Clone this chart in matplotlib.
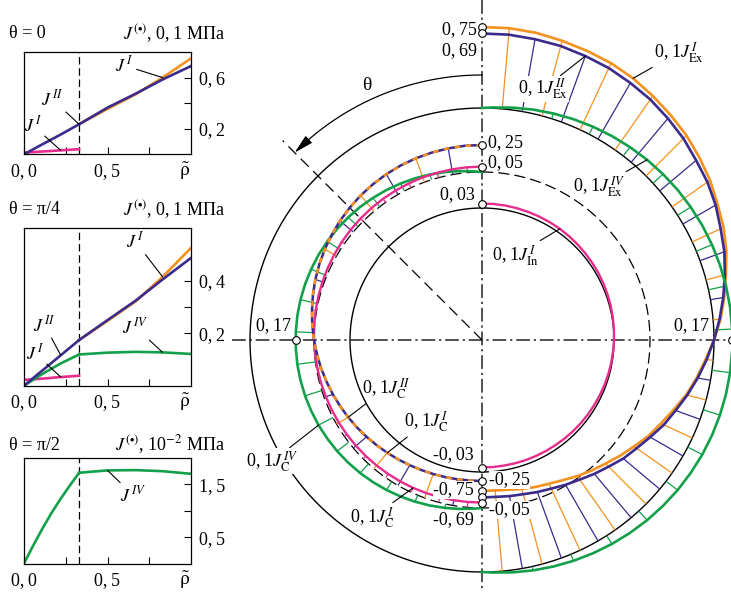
import numpy as np
import matplotlib
matplotlib.use("Agg")
import matplotlib.pyplot as plt
from matplotlib.collections import LineCollection

plt.rcParams['font.family'] = ['Liberation Serif', 'DejaVu Serif']
plt.rcParams['mathtext.fontset'] = 'stix'
plt.rcParams['font.size'] = 13

W, H = 731, 592
fig = plt.figure(figsize=(W / 100, H / 100), dpi=100)

ORANGE = '#F4911F'
BLUE = '#3A2B8C'
GREEN = '#13A04A'
PINK = '#E62C8C'
TS = '\u2009'  # thin space after decimal comma

# ---------------- left panels: data ----------------
rho_core = [0.0, 0.11, 0.22, 0.33]
rho_core_fine = [0.0, 0.055, 0.11, 0.165, 0.22, 0.275, 0.33]
rho_ext = [0.33, 0.5, 0.67, 0.83, 1.0]
rho_split = 0.33
x_ticks = [0.0, 0.25, 0.5, 0.75]
x_ticklabels = ['0,' + TS + '0', '', '0,' + TS + '5', '']

# theta = 0
t0_JII_core = [0.0, 0.078, 0.155, 0.235]
t0_JII_ext = [0.235, 0.365, 0.475, 0.585, 0.69]
t0_JI_ext = [0.235, 0.355, 0.47, 0.60, 0.75]
t0_JI_core = [0.013, 0.022, 0.031, 0.040]
# theta = pi/4
t4_JII_core = [0.0, 0.058, 0.116, 0.174]
t4_JII_ext = [0.174, 0.25, 0.325, 0.405, 0.487]
t4_JI_ext = [0.174, 0.247, 0.322, 0.415, 0.525]
t4_JI_core = [0.022, 0.027, 0.033, 0.038]
t4_JIV_core = [0.0, 0.045, 0.085, 0.119]
t4_JIV_ext = [0.119, 0.126, 0.129, 0.127, 0.121]
# theta = pi/2 (10^-2 MPa)
t2_JIV_core = [0.0, 0.34, 0.66, 0.96, 1.23, 1.48, 1.72]
t2_JIV_ext = [1.72, 1.765, 1.77, 1.75, 1.70]

# ---------------- polar diagram: data ----------------
theta_deg = list(range(0, 181, 5))
theta_g = [0.0] + [2.5 + 5 * k for k in range(36)] + [180.0]

ex_I = [0.75, 0.75, 0.74, 0.72, 0.70, 0.68, 0.65, 0.61, 0.57, 0.53, 0.48, 0.43, 0.37, 0.32, 0.26, 0.19,
        0.13, 0.07, 0.00, -0.07, -0.13, -0.19, -0.26, -0.32, -0.37, -0.43, -0.48, -0.53, -0.57, -0.61,
        -0.65, -0.68, -0.70, -0.72, -0.74, -0.75, -0.75]
ex_II = [0.69, 0.69, 0.68, 0.67, 0.65, 0.63, 0.60, 0.57, 0.53, 0.49, 0.44, 0.40, 0.35, 0.29, 0.24, 0.18,
         0.12, 0.06, 0.00, -0.06, -0.12, -0.18, -0.24, -0.29, -0.35, -0.40, -0.44, -0.49, -0.53, -0.57,
         -0.60, -0.63, -0.65, -0.67, -0.68, -0.69, -0.69]
ex_IV = [0.0, 0.007, 0.022, 0.037, 0.051, 0.065, 0.078, 0.091, 0.103, 0.115, 0.125, 0.135, 0.143, 0.151,
         0.157, 0.162, 0.166, 0.169, 0.170, 0.170, 0.169, 0.166, 0.162, 0.157, 0.151, 0.143, 0.135, 0.125,
         0.115, 0.103, 0.091, 0.078, 0.065, 0.051, 0.037, 0.022, 0.007, 0.0]
c_II = [0.25, 0.25, 0.246, 0.241, 0.235, 0.227, 0.217, 0.205, 0.192, 0.177, 0.161, 0.143, 0.125, 0.106,
        0.086, 0.065, 0.043, 0.022, 0.0, -0.022, -0.043, -0.065, -0.086, -0.106, -0.125, -0.143, -0.161,
        -0.177, -0.192, -0.205, -0.217, -0.227, -0.235, -0.241, -0.246, -0.25, -0.25]
c_I = [0.05, 0.05, 0.049, 0.048, 0.047, 0.045, 0.043, 0.041, 0.038, 0.035, 0.032, 0.029, 0.025, 0.021,
       0.017, 0.013, 0.009, 0.004, 0.0, -0.004, -0.009, -0.013, -0.017, -0.021, -0.025, -0.029, -0.032,
       -0.035, -0.038, -0.041, -0.043, -0.045, -0.047, -0.048, -0.049, -0.05, -0.05]
c_IV = [0.0, 0.007, 0.022, 0.037, 0.051, 0.065, 0.078, 0.091, 0.103, 0.115, 0.125, 0.135, 0.143, 0.151,
        0.157, 0.162, 0.166, 0.169, 0.170, 0.170, 0.169, 0.166, 0.162, 0.157, 0.151, 0.143, 0.135, 0.125,
        0.115, 0.103, 0.091, 0.078, 0.065, 0.051, 0.037, 0.022, 0.007, 0.0]
in_I = [0.03, 0.03, 0.03, 0.029, 0.028, 0.027, 0.026, 0.025, 0.023, 0.021, 0.019, 0.017, 0.015, 0.013,
        0.010, 0.008, 0.005, 0.003, 0.0, -0.003, -0.005, -0.008, -0.010, -0.013, -0.015, -0.017, -0.019,
        -0.021, -0.023, -0.025, -0.026, -0.027, -0.028, -0.029, -0.03, -0.03, -0.03]

# geometry (pixels)
CX, CY = 482, 340
R_EX, R_C, R_IN = 232, 168, 132
K, K_IN = 108, 150


def ftext(x, y, s, **kw):
    kw.setdefault('va', 'center')
    return fig.text(x / W, 1 - y / H, s, **kw)


def pol(th, r, side):
    t = np.radians(np.asarray(th, dtype=float))
    r = np.asarray(r, dtype=float)
    return CX + side * r * np.sin(t), CY - r * np.cos(t)


# ---------------- main polar drawing ----------------
main = fig.add_axes([0, 0, 1, 1])
main.set_xlim(0, W)
main.set_ylim(H, 0)
main.set_facecolor('none')
main.axis('off')

# axis lines
main.plot([CX, CX], [0, H], color='#222222', lw=1.1, ls=(0, (9, 2.5, 1.5, 2.5)), zorder=1)
main.plot([CX - 250, W], [CY, CY], color='#222222', lw=1.1, ls=(0, (9, 2.5, 1.5, 2.5)), zorder=1)
# 45 deg dashed line
lx, ly = pol([45, 45], [0, 282], -1)
main.plot(lx, ly, color='k', lw=0.9, ls=(0, (9, 5)), zorder=1)
# theta arc and arrow
ax_, ay_ = pol(np.linspace(0, 43, 60), 265, -1)
main.plot(ax_, ay_, color='k', lw=0.9, zorder=2)
p_end = pol(45, 265, -1)
p_beg = pol(41, 265, -1)
main.annotate('', xy=(float(p_end[0]), float(p_end[1])), xytext=(float(p_beg[0]), float(p_beg[1])),
              arrowprops=dict(arrowstyle='-|>,head_length=0.9,head_width=0.22', lw=0.9, color='k',
                              shrinkA=0, shrinkB=0))
main.text(367, 85, 'θ', fontsize=14, ha='center', va='center')

# base circles
full = np.linspace(0, 360, 361)
bx, by = pol(full, R_EX, 1)
main.plot(bx, by, color='k', lw=1.0, zorder=2)
bx, by = pol(full, R_IN, 1)
main.plot(bx, by, color='k', lw=1.0, zorder=2)
bx, by = pol(full, R_C, 1)
main.plot(bx, by, color='k', lw=0.9, ls=(0, (9, 4)), zorder=2)


def hatch(th_list, vals, base, scale, side, idx, color):
    segs = []
    for i in idx:
        x0, y0 = pol(th_list[i], base, side)
        x1, y1 = pol(th_list[i], base + scale * vals[i], side)
        segs.append([(float(x0), float(y0)), (float(x1), float(y1))])
    main.add_collection(LineCollection(segs, colors=color, linewidths=0.9, zorder=3))


n = len(theta_deg)
# exterior group (right half)
hatch(theta_deg, ex_I, R_EX, K, 1, range(1, n - 1, 2), ORANGE)
hatch(theta_deg, ex_II, R_EX, K, 1, range(2, n - 1, 2), BLUE)
hatch(theta_g, ex_IV, R_EX, K, 1, range(2, len(theta_g) - 1, 2), GREEN)
# core group (left half)
hatch(theta_deg, c_II, R_C, K, -1, [i for i in range(2, n - 1) if theta_deg[i] % 20 == 10], BLUE)
hatch(theta_deg, c_II, R_C, K, -1, [i for i in range(2, n - 1) if theta_deg[i] % 20 == 0], ORANGE)
hatch(theta_deg, c_I, R_C, K, -1, range(1, n - 1, 2), PINK)
hatch(theta_g, c_IV, R_C, K, -1, range(2, len(theta_g) - 1, 2), GREEN)

# curves
x, y = pol(theta_deg, R_EX + K * np.array(ex_I), 1)
main.plot(x, y, color=ORANGE, lw=1.9, zorder=4)
x, y = pol(theta_deg, R_EX + K * np.array(ex_II), 1)
main.plot(x, y, color=BLUE, lw=1.9, zorder=4)
x, y = pol(theta_g, R_EX + K * np.array(ex_IV), 1)
main.plot(x, y, color=GREEN, lw=1.9, zorder=4)

x, y = pol(theta_g, R_C + K * np.array(c_IV), -1)
main.plot(x, y, color=GREEN, lw=1.9, zorder=4)
x, y = pol(theta_deg, R_C + K * np.array(c_I), -1)
main.plot(x, y, color=PINK, lw=1.7, zorder=4)
x, y = pol(theta_deg, R_C + K * np.array(c_II), -1)
main.plot(x, y, color=BLUE, lw=1.8, zorder=4)
main.plot(x, y, color=ORANGE, lw=1.8, ls=(0, (2.2, 2.2)), zorder=4)

x, y = pol(theta_deg, R_IN + K_IN * np.array(in_I), 1)
main.plot(x, y, color=PINK, lw=1.7, zorder=4)

# value markers
mk = []
for vals, base, sc in [(ex_I, R_EX, K), (ex_II, R_EX, K), (c_II, R_C, K), (c_I, R_C, K), (in_I, R_IN, K_IN)]:
    mk.append(pol(0, base + sc * vals[0], 1))
    mk.append(pol(180, base + sc * vals[-1], 1))
mk.append(pol(90, R_EX + K * max(ex_IV), 1))
mk.append(pol(90, R_C + K * max(c_IV), -1))
main.plot([float(p[0]) for p in mk], [float(p[1]) for p in mk], 'o', ms=5.5, mfc='white', mec='k',
          mew=0.8, zorder=7, clip_on=False)


def fmt(v):
    return f"{v:.2f}".replace('.', ',' + TS)


wb = dict(boxstyle='square,pad=0.02', fc='white', ec='none')
main.text(477, 30, fmt(ex_I[0]), ha='right', va='center')
main.text(477, 51, fmt(ex_II[0]), ha='right', va='center')
main.text(488, 143, fmt(c_II[0]), ha='left', va='center')
main.text(488, 163, fmt(c_I[0]), ha='left', va='center')
main.text(475, 195, fmt(in_I[0]), ha='right', va='center')
main.text(474, 455, fmt(in_I[-1]), ha='right', va='center')
main.text(489, 480, fmt(c_II[-1]), ha='left', va='center', bbox=wb, zorder=6)
main.text(474, 490, fmt(ex_I[-1]), ha='right', va='center', bbox=wb, zorder=6)
main.text(489, 510, fmt(c_I[-1]), ha='left', va='center', bbox=wb, zorder=6)
main.text(474, 520, fmt(ex_II[-1]), ha='right', va='center', bbox=wb, zorder=6)
main.text(274, 326, fmt(max(c_IV)), ha='center', va='center')
main.text(692, 326, fmt(max(ex_IV)), ha='center', va='center')

lead = dict(arrowstyle='-', lw=0.8, color='k', shrinkA=0, shrinkB=0)
PRE = '0,' + TS + '1'


def label(s, pt, off, box=False):
    kw = dict(bbox=dict(boxstyle='square,pad=0.05', fc='white', ec='none')) if box else {}
    main.annotate(s, xy=(float(pt[0]), float(pt[1])), xytext=off, textcoords='offset pixels',
                  ha='center', va='center', fontsize=13, arrowprops=lead, zorder=6, **kw)


label(PRE + r'$J^{\,I}_{\mathrm{Ex}}$', pol(theta_deg[6], R_EX + K * ex_I[6], 1), (46, 26))
label(PRE + r'$J^{\,II}_{\mathrm{Ex}}$', pol(theta_deg[4], R_EX + K * ex_II[4], 1), (-42, -33), box=True)
label(PRE + r'$J^{\,IV}_{\mathrm{Ex}}$', pol(theta_g[9], R_EX + K * ex_IV[9], 1), (-48, -27))
label(PRE + r'$J^{\,I}_{\mathrm{In}}$', pol(theta_deg[7], R_IN + K_IN * in_I[7], 1), (-45, -27))
label(PRE + r'$J^{\,II}_{\mathrm{C}}$', pol(theta_deg[24], R_C + K * c_II[24], -1), (38, 29))
label(PRE + r'$J^{\,I}_{\mathrm{C}}$', pol(theta_deg[28], R_C + K * c_II[28], -1), (39, 31))
label(PRE + r'$J^{\,IV}_{\mathrm{C}}$', pol(theta_g[24], R_C + K * c_IV[24], -1), (-46, -36), box=True)
label(PRE + r'$J^{\,I}_{\mathrm{C}}$', pol(theta_deg[31], R_C + K * c_I[31], -1), (-41, -30))


# ---------------- left panels ----------------
def panel(box, ylim, yticks, ylabels, title_l, title_r, title_y):
    l, t, r, b = box
    ax = fig.add_axes([l / W, 1 - b / H, (r - l) / W, (b - t) / H])
    ax.set_xlim(0, 1)
    ax.set_ylim(*ylim)
    ax.yaxis.tick_right()
    ax.set_xticks(x_ticks)
    ax.set_xticklabels(x_ticklabels)
    ax.set_yticks(yticks)
    ax.set_yticklabels(ylabels)
    ax.tick_params(direction='in', length=5, width=0.8, labelsize=13)
    ax.tick_params(axis='x', pad=6)
    ax.tick_params(axis='y', pad=6)
    for s in ax.spines.values():
        s.set_linewidth(0.9)
    ax.axvline(rho_split, color='k', lw=0.9, ls=(0, (6, 3)))
    ftext(9, title_y, title_l, ha='left')
    ftext(225, title_y, title_r, ha='right')
    ftext(r - 6, b + 17, r'$\tilde{\mathrm{\rho}}$', ha='center', fontsize=14)
    return ax


def plabel(ax, s, xy, off):
    ax.annotate(s, xy=xy, xytext=off, textcoords='offset pixels', ha='center', va='center',
                fontsize=13, arrowprops=lead)


def yl(a, b):
    return [('0,' + TS + a) if a else '', '', ('0,' + TS + b)]


LW = 1.9
a1 = panel((24, 52, 191, 154.3), (0, 0.8), [0.2, 0.4, 0.6], yl('2', '6'),
           'θ = 0', r'$J^{(\bullet)}$, 0,' + TS + '1 МПа', 34)
a1.plot(rho_core, t0_JI_core, color=PINK, lw=LW)
a1.plot(rho_ext, t0_JI_ext, color=ORANGE, lw=LW)
a1.plot(rho_core, t0_JII_core, color=BLUE, lw=LW)
a1.plot(rho_ext, t0_JII_ext, color=BLUE, lw=LW)
plabel(a1, r'$J^{\,I}$', (rho_ext[3], t0_JI_ext[3]), (-38, 12))
plabel(a1, r'$J^{\,II}$', (rho_core[3], t0_JII_core[3]), (-27, 25))
plabel(a1, r'$J^{\,I}$', (rho_core[2], t0_JI_core[2]), (-28, 25))

a2 = panel((24, 228.3, 191, 385.7), (0, 0.6), [0.2, 0.3, 0.4], yl('2', '4'),
           'θ = π/4', r'$J^{(\bullet)}$, 0,' + TS + '1 МПа', 210)
a2.plot(rho_core, t4_JI_core, color=PINK, lw=LW)
a2.plot(rho_core, t4_JIV_core, color=GREEN, lw=LW)
a2.plot(rho_ext, t4_JIV_ext, color=GREEN, lw=LW)
a2.plot(rho_ext, t4_JI_ext, color=ORANGE, lw=LW)
a2.plot(rho_core, t4_JII_core, color=BLUE, lw=LW)
a2.plot(rho_ext, t4_JII_ext, color=BLUE, lw=LW)
plabel(a2, r'$J^{\,I}$', (rho_ext[3], t4_JI_ext[3]), (-27, 35))
plabel(a2, r'$J^{\,II}$', (rho_core[2], t4_JII_core[2]), (-16, 30))
plabel(a2, r'$J^{\,I}$', (rho_core[2], t4_JI_core[2]), (-26, 24))
plabel(a2, r'$J^{\,IV}$', (rho_ext[3], t4_JIV_ext[3]), (-27, 25))

a3 = panel((24, 458, 191, 563.5), (0, 2.0), [0.5, 1.0, 1.5], ['0,' + TS + '5', '', '1,' + TS + '5'],
           'θ = π/2', r'$J^{(\bullet)}$, 10$^{-2}$ МПа', 445)
a3.plot(rho_core_fine, t2_JIV_core, color=GREEN, lw=LW)
a3.plot(rho_ext, t2_JIV_ext, color=GREEN, lw=LW)
plabel(a3, r'$J^{\,IV}$', (rho_ext[1], t2_JIV_ext[1]), (26, -25))

fig.savefig('out.png', dpi=100)
